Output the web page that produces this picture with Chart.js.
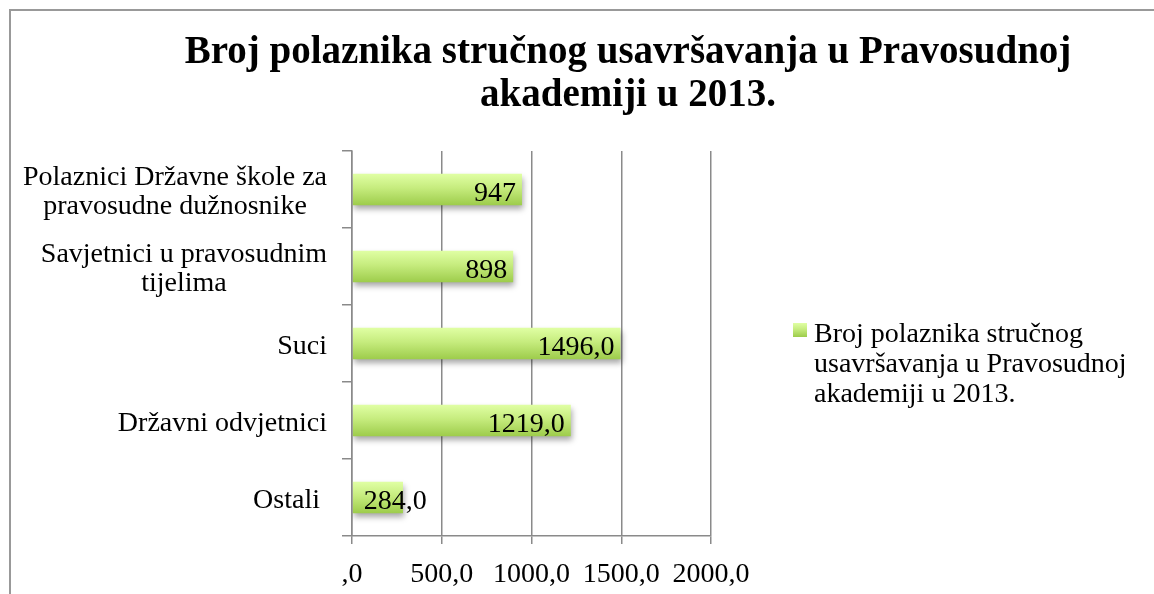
<!DOCTYPE html>
<html>
<head>
<meta charset="utf-8">
<script src="https://cdn.jsdelivr.net/npm/chart.js@4.4.1/dist/chart.umd.min.js"></script>
<style>
  html, body { margin: 0; padding: 0; background: #fff; overflow: hidden; width: 1154px; height: 594px; }
  #frame { position: absolute; left: 9px; top: 9px; width: 2000px; height: 2000px; border: 2px solid #999; }
  #chart { position: absolute; left: 0; top: 0; }
</style>
</head>
<body>
<div id="frame"></div>
<canvas id="chart" width="1256" height="594"></canvas>
<script>
const titleLines = ['Broj polaznika stručnog usavršavanja u Pravosudnoj', 'akademiji u 2013.'];
const seriesNameLines = ['Broj polaznika stručnog', 'usavršavanja u Pravosudnoj', 'akademiji u 2013.'];
const categories = [
  ['Polaznici Državne škole za', 'pravosudne dužnosnike'],
  ['Savjetnici u pravosudnim', 'tijelima'],
  ['Suci'],
  ['Državni odvjetnici'],
  ['Ostali ']
];
const values = [947, 898, 1496, 1219, 284];
const valueLabels = ['947', '898', '1496,0', '1219,0', '284,0'];
const xTickValues = [0, 500, 1000, 1500, 2000];
const xTickLabels = [',0', '500,0', '1000,0', '1500,0', '2000,0'];

const FONT = "'Liberation Serif', serif";
const GRID = '#8a8a8a';
const BAR_FRACTION = 0.41;

function greenGradient(ctx, top, bottom) {
  const g = ctx.createLinearGradient(0, top, 0, bottom);
  g.addColorStop(0, '#e0ffa4');
  g.addColorStop(0.45, '#c6ec7e');
  g.addColorStop(1, '#9dcc4b');
  return g;
}

// soft shadow under the bars
const shadowPlugin = {
  id: 'barShadow',
  beforeDatasetsDraw(chart) {
    const ctx = chart.ctx;
    ctx.save();
    ctx.shadowColor = 'rgba(0,0,0,0.35)';
    ctx.shadowBlur = 6;
    ctx.shadowOffsetX = 1;
    ctx.shadowOffsetY = 4;
  },
  afterDatasetsDraw(chart) {
    chart.ctx.restore();
  }
};

// title, category labels, value labels and legend
const textPlugin = {
  id: 'textLayer',
  afterDraw(chart) {
    const ctx = chart.ctx;
    const area = chart.chartArea;
    const ys = chart.scales.y;
    ctx.save();
    ctx.fillStyle = '#000';
    ctx.textBaseline = 'alphabetic';

    // title is centred on the whole chart box, not the plot
    ctx.font = 'bold 39px ' + FONT;
    ctx.textAlign = 'center';
    titleLines.forEach((t, j) => ctx.fillText(t, chart.width / 2, 63 + j * 43));

    ctx.font = '28px ' + FONT;
    const right = area.left - 25;
    categories.forEach((lines, i) => {
      const cy = ys.getPixelForValue(i);
      const w = Math.max(...lines.map(t => ctx.measureText(t).width));
      ctx.textAlign = 'center';
      lines.forEach((t, j) => {
        ctx.fillText(t, right - w / 2, cy + 10 + (j - (lines.length - 1) / 2) * 29);
      });
    });

    ctx.textAlign = 'left';
    chart.getDatasetMeta(0).data.forEach((bar, i) => {
      const w = ctx.measureText(valueLabels[i]).width;
      const x = Math.max(bar.x - 6 - w, bar.base + 11);
      ctx.fillText(valueLabels[i], x, bar.y + 11);
    });

    const lx = area.right + 82;
    const ly = area.top + 172;
    ctx.fillStyle = greenGradient(ctx, ly, ly + 14);
    ctx.fillRect(lx, ly, 14, 14);
    ctx.fillStyle = '#000';
    seriesNameLines.forEach((t, j) => ctx.fillText(t, lx + 21, area.top + 191 + j * 30));
    ctx.restore();
  }
};

new Chart(document.getElementById('chart'), {
  type: 'bar',
  data: {
    labels: categories,
    datasets: [{
      label: seriesNameLines.join(' '),
      data: values,
      backgroundColor: (c) => {
        const y = c.chart.scales.y;
        if (!y || !c.chart.chartArea) return '#bfe673';
        const band = Math.abs(y.getPixelForValue(1) - y.getPixelForValue(0));
        const mid = y.getPixelForValue(c.dataIndex);
        return greenGradient(c.chart.ctx, mid - band * BAR_FRACTION / 2, mid + band * BAR_FRACTION / 2);
      },
      borderWidth: 0,
      categoryPercentage: 1,
      barPercentage: BAR_FRACTION
    }]
  },
  options: {
    indexAxis: 'y',
    responsive: false,
    animation: false,
    layout: { padding: { left: 0, right: 545, top: 151, bottom: 0 } },
    plugins: {
      legend: { display: false },
      tooltip: { enabled: false },
      title: { display: false }
    },
    scales: {
      x: {
        min: 0,
        max: 2000,
        afterFit: (s) => { s.height = 58; },
        ticks: {
          stepSize: 500,
          autoSkip: false,
          maxRotation: 0,
          padding: 14,
          color: '#000',
          font: { family: FONT, size: 28 },
          callback: (v) => xTickLabels[xTickValues.indexOf(v)]
        },
        grid: { color: GRID, lineWidth: 1.5, tickLength: 8 },
        border: { color: GRID, width: 1.5 }
      },
      y: {
        afterFit: (s) => { s.width = 352; },
        ticks: { display: false },
        grid: { offset: true, drawOnChartArea: false, color: GRID, lineWidth: 1.5, tickLength: 10 },
        border: { color: GRID, width: 1.5, z: 1 }
      }
    }
  },
  plugins: [shadowPlugin, textPlugin]
});
</script>
</body>
</html>
